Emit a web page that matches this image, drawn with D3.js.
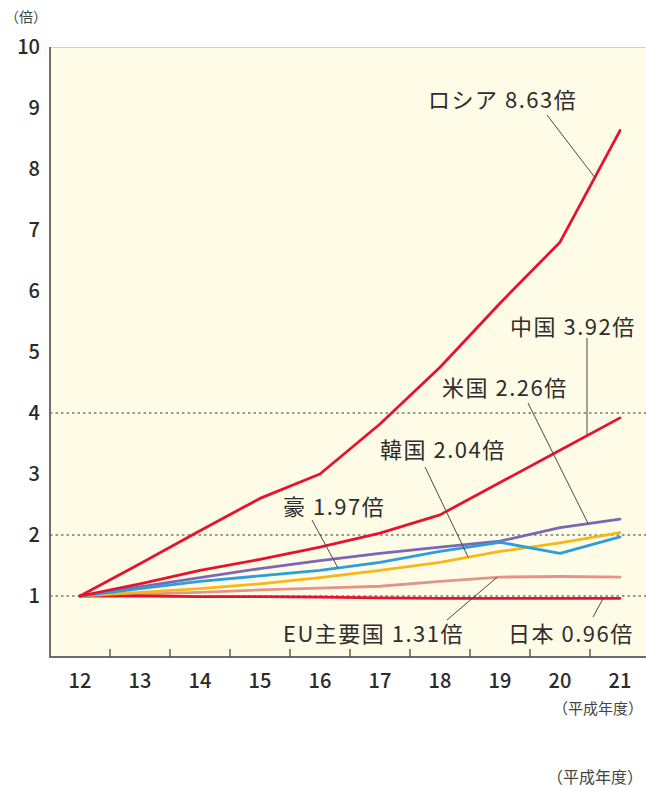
<!DOCTYPE html>
<html><head><meta charset="utf-8">
<script src="https://cdn.jsdelivr.net/npm/d3@7"></script>
<style>
html,body{margin:0;padding:0;background:#fff;}
svg{display:block;font-family:"Noto Sans CJK JP","Noto Sans",sans-serif;}
</style></head>
<body><svg id="chart" width="646" height="789"></svg>
<script>
// ---- data ----
const years = [12, 13, 14, 15, 16, 17, 18, 19, 20, 21];
const russia    = [1, 1.53, 2.07, 2.6, 3.0, 3.82, 4.75, 5.8, 6.8, 8.63];
const china     = [1, 1.2, 1.42, 1.6, 1.8, 2.03, 2.33, 2.86, 3.39, 3.92];
const usa       = [1, 1.15, 1.3, 1.45, 1.58, 1.7, 1.8, 1.9, 2.12, 2.26];
const korea     = [1, 1.06, 1.12, 1.2, 1.3, 1.42, 1.55, 1.73, 1.87, 2.04];
const australia = [1, 1.12, 1.24, 1.33, 1.42, 1.55, 1.73, 1.88, 1.7, 1.97];
const eu        = [1, 1.03, 1.06, 1.1, 1.13, 1.16, 1.24, 1.31, 1.32, 1.31];
const japan     = [1, 1.0, 0.99, 0.99, 0.98, 0.97, 0.96, 0.96, 0.96, 0.96];
const yTicks = [1, 2, 3, 4, 5, 6, 7, 8, 9, 10];
const refLines = [1, 2, 4];
const seriesNames = ["ロシア", "中国", "米国", "韓国", "豪", "EU主要国", "日本"];
const seriesLabels = ["ロシア 8.63倍", "中国 3.92倍", "米国 2.26倍", "韓国 2.04倍", "豪 1.97倍", "EU主要国 1.31倍", "日本 0.96倍"];
const yUnit = "（倍）";
const xUnit = "（平成年度）";

// ---- layout / style ----
const colors = ["#e5132d", "#e5132d", "#7a68b4", "#f6b71a", "#2a9fdb", "#e39488", "#e5132d"];
const allSeries = [russia, china, usa, korea, australia, eu, japan];
const labelPos = [
  {tx: 428, ty: 100, lx: 547, ly: 115, yr: 20.58},
  {tx: 510, ty: 327, lx: 587, ly: 338, yr: 20.45},
  {tx: 442, ty: 388, lx: 528, ly: 403, yr: 20.47},
  {tx: 380, ty: 450, lx: 425, ly: 467, yr: 18.47},
  {tx: 283, ty: 507, lx: 312, ly: 520, yr: 16.3},
  {tx: 283, ty: 634, lx: 447, ly: 620, yr: 18.95},
  {tx: 508, ty: 634, lx: 593, ly: 617, yr: 20.72}
];

const svg = d3.select("#chart");
const pLeft = 50, pRight = 646, pTop = 47, pBottom = 657;
const x = d3.scaleLinear().domain([12, 21]).range([80, 620]);
const y = d3.scaleLinear().domain([0, 10]).range([pBottom, pTop]);

svg.append("rect").attr("x", pLeft).attr("y", pTop).attr("width", pRight - pLeft).attr("height", pBottom - pTop)
  .attr("fill", "#fefbe7");
svg.append("line").attr("x1", pLeft).attr("x2", pRight).attr("y1", pTop + 0.5).attr("y2", pTop + 0.5)
  .attr("stroke", "#d8d4c4").attr("stroke-width", 1);

svg.selectAll("line.ref").data(refLines).enter().append("line").attr("class", "ref")
  .attr("x1", pLeft).attr("x2", pRight)
  .attr("y1", d => y(d)).attr("y2", d => y(d))
  .attr("stroke", "#7a7a72").attr("stroke-width", 1.6).attr("stroke-dasharray", "2.5,3");

const line = d3.line().x((d, i) => x(years[i])).y(d => y(d));
const order = [5, 6, 3, 2, 4, 1, 0];
order.forEach(k => {
  svg.append("path").datum(allSeries[k]).attr("d", line)
    .attr("fill", "none").attr("stroke", colors[k]).attr("stroke-width", 2.8)
    .attr("stroke-linejoin", "round").attr("stroke-linecap", "round");
});

function valueAt(arr, yr) {
  const i = Math.min(Math.floor(yr - years[0]), years.length - 2);
  const t = yr - years[i];
  return arr[i] + (arr[i + 1] - arr[i]) * t;
}
labelPos.forEach((p, k) => {
  svg.append("line").attr("x1", p.lx).attr("y1", p.ly)
    .attr("x2", x(p.yr)).attr("y2", y(valueAt(allSeries[k], p.yr)))
    .attr("stroke", "#4a4a44").attr("stroke-width", 1);
  svg.append("text").attr("x", p.tx).attr("y", p.ty).attr("dy", "0.36em")
    .attr("font-size", 22).attr("font-weight", 400).attr("letter-spacing", 1.5).attr("fill", "#2e2e2e")
    .text(seriesLabels[k]);
});

svg.append("line").attr("x1", pLeft).attr("x2", pLeft).attr("y1", pTop).attr("y2", pBottom + 1)
  .attr("stroke", "#6d6d68").attr("stroke-width", 2);
svg.append("line").attr("x1", pLeft).attr("x2", pRight).attr("y1", pBottom).attr("y2", pBottom)
  .attr("stroke", "#6d6d68").attr("stroke-width", 2);

const midTicks = years.slice(0, -1).map(v => v + 0.5);
svg.selectAll("line.xt").data(midTicks).enter().append("line").attr("class", "xt")
  .attr("x1", d => x(d)).attr("x2", d => x(d)).attr("y1", pBottom).attr("y2", pBottom - 8)
  .attr("stroke", "#555550").attr("stroke-width", 1.4);

svg.selectAll("text.xl").data(years).enter().append("text").attr("class", "xl")
  .attr("x", d => x(d)).attr("y", 681).attr("dy", "0.36em").attr("text-anchor", "middle")
  .attr("font-size", 20).attr("font-weight", 500).attr("fill", "#2a2a2a").text(d => d);

svg.selectAll("text.yl").data(yTicks).enter().append("text").attr("class", "yl")
  .attr("x", 40).attr("y", d => y(d)).attr("dy", "0.36em").attr("text-anchor", "end")
  .attr("font-size", 20).attr("font-weight", 500).attr("fill", "#2a2a2a").text(d => d);

svg.append("text").attr("x", 5).attr("y", 17).attr("dy", "0.36em")
  .attr("font-size", 14).attr("fill", "#444").text(yUnit);
svg.append("text").attr("x", 643).attr("y", 709).attr("dy", "0.36em").attr("text-anchor", "end")
  .attr("font-size", 15).attr("fill", "#444").text(xUnit);
svg.append("text").attr("x", 643).attr("y", 777).attr("dy", "0.36em").attr("text-anchor", "end")
  .attr("font-size", 16).attr("fill", "#444").text(xUnit);
</script></body></html>
